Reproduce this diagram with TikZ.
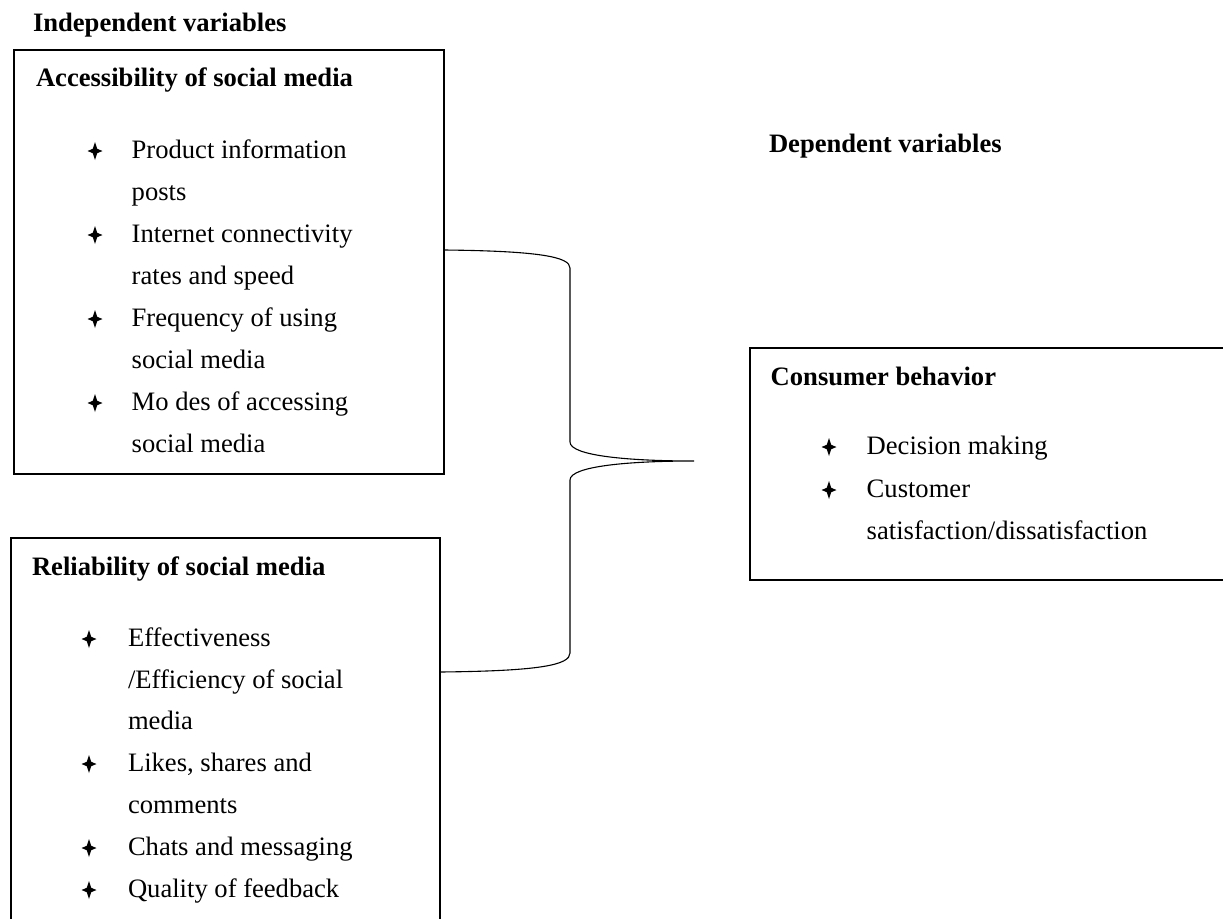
\documentclass[tikz,border=0pt]{standalone}
\usepackage{fontspec}
\setmainfont{Liberation Serif}
\begin{document}
\begin{tikzpicture}[x=1pt,y=-1pt,
  txt/.style={anchor=base west, inner sep=0pt, outer sep=0pt, font=\fontsize{26.6}{32}\selectfont},
  hd/.style={anchor=base west, inner sep=0pt, outer sep=0pt, font=\fontsize{26.6}{32}\selectfont\bfseries},
  frame/.style={draw, line width=1.8pt, rectangle, inner sep=0pt, outer sep=0pt},
  bracepath/.style={line width=1.1pt},
  star4/.pic={\fill[black] (0,-9) -- (2.2,-2.2) -- (7.5,0) -- (2.2,2.2) -- (0,9) -- (-2.2,2.2) -- (-7.5,0) -- (-2.2,-2.2) -- cycle;}
]
\useasboundingbox (0,0) rectangle (1223,918);

% boxes
\node[frame, minimum width=430pt, minimum height=424pt] (box1) at (229,262) {};
\node[frame, minimum width=429pt, minimum height=420pt] (box2) at (225.5,748) {};
\node[frame, minimum width=500pt, minimum height=232pt] (box3) at (1000,464) {};

% headings
\node[hd] (indep) at (33,31.7) {Independent variables};
\node[hd] (dep) at (769,152.7) {Dependent variables};
\node[hd] (h1) at (36,86.7) {Accessibility of social media};
\node[hd] (h2) at (32,575) {Reliability of social media};
\node[hd] (h3) at (770.7,385) {Consumer behavior};

% box 1 items
\node[txt] (a1) at (131.7,158) {Product information};
\node[txt] (a2) at (131.7,200) {posts};
\node[txt] (a3) at (131.7,242) {Internet connectivity};
\node[txt] (a4) at (131.7,284) {rates and speed};
\node[txt] (a5) at (131.7,326) {Frequency of using};
\node[txt] (a6) at (131.7,368) {social media};
\node[txt] (a7) at (131.7,410) {Mo des of accessing};
\node[txt] (a8) at (131.7,452) {social media};
\pic at (95,151) {star4};
\pic at (95,235) {star4};
\pic at (95,319) {star4};
\pic at (95,403) {star4};

% box 2 items
\node[txt] (b1) at (128,646) {Effectiveness};
\node[txt] (b2) at (128,688) {/Efficiency of social};
\node[txt] (b3) at (128,729) {media};
\node[txt] (b4) at (128,771) {Likes, shares and};
\node[txt] (b5) at (128,813) {comments};
\node[txt] (b6) at (128,855) {Chats and messaging};
\node[txt] (b7) at (128,897) {Quality of feedback};
\pic at (89,639) {star4};
\pic at (89,764) {star4};
\pic at (89,848) {star4};
\pic at (89,890) {star4};

% box 3 items
\node[txt] (c1) at (866.7,454) {Decision making};
\node[txt] (c2) at (866.7,497) {Customer};
\node[txt] (c3) at (866.7,539) {satisfaction/dissatisfaction};
\pic at (829,447) {star4};
\pic at (829,490) {star4};

% brace
\coordinate (ya) at (0,250);
\coordinate (yb) at (0,672);
\coordinate (tip) at (694,461);
\draw[bracepath] (box1.east |- ya) .. controls (540,251) and (570,257) .. (570,268)
  -- (570,442) .. controls (570,456) and (630,461) .. (tip)
  .. controls (630,461) and (570,466) .. (570,480)
  -- (570,653) .. controls (570,665) and (540,671) .. (box2.east |- yb);
\end{tikzpicture}
\end{document}
